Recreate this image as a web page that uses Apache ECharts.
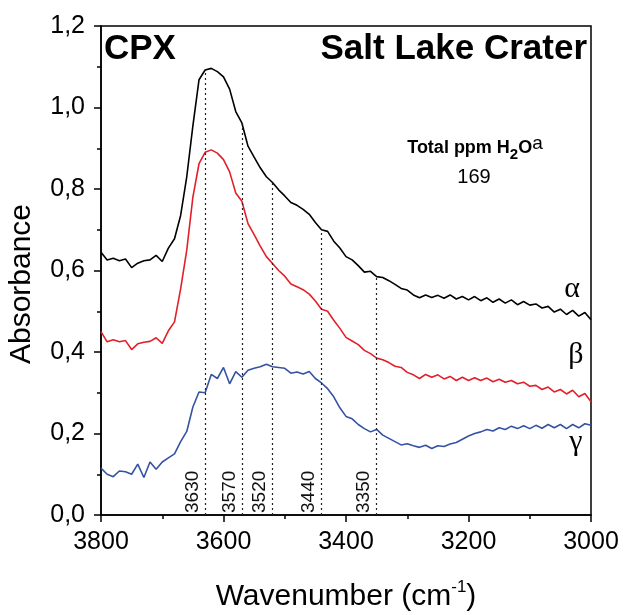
<!DOCTYPE html>
<html>
<head>
<meta charset="utf-8">
<script src="https://cdn.jsdelivr.net/npm/echarts@6/dist/echarts.min.js"></script>
<style>
  html, body { margin: 0; padding: 0; background: #fff; }
  #chart { width: 624px; height: 615px; }
</style>
</head>
<body>
<div id="chart"></div>
<script>
// FTIR spectra of CPX, Salt Lake Crater, three polarisation directions
const wavenumbers = [
  3800, 3790, 3780, 3770, 3760, 3750, 3740, 3730, 3720, 3710,
  3700, 3690, 3680, 3670, 3660, 3650, 3640, 3630, 3620, 3610,
  3600, 3590, 3580, 3570, 3560, 3550, 3540, 3530, 3520, 3510,
  3500, 3490, 3480, 3470, 3460, 3450, 3440, 3430, 3420, 3410,
  3400, 3390, 3380, 3370, 3360, 3350, 3340, 3330, 3320, 3310,
  3300, 3290, 3280, 3270, 3260, 3250, 3240, 3230, 3220, 3210,
  3200, 3190, 3180, 3170, 3160, 3150, 3140, 3130, 3120, 3110,
  3100, 3090, 3080, 3070, 3060, 3050, 3040, 3030, 3020, 3010,
  3000
];

const absAlpha = [
  0.645, 0.626, 0.630, 0.624, 0.628, 0.607, 0.618, 0.624, 0.626, 0.637,
  0.622, 0.655, 0.678, 0.735, 0.830, 0.955, 1.068, 1.092, 1.096, 1.088,
  1.075, 1.045, 0.990, 0.962, 0.905, 0.878, 0.852, 0.830, 0.816, 0.798,
  0.783, 0.767, 0.760, 0.750, 0.738, 0.718, 0.700, 0.696, 0.672, 0.655,
  0.634, 0.626, 0.612, 0.596, 0.598, 0.585, 0.583, 0.575, 0.566, 0.556,
  0.552, 0.540, 0.533, 0.540, 0.534, 0.539, 0.532, 0.540, 0.530, 0.536,
  0.528, 0.536, 0.526, 0.533, 0.522, 0.530, 0.520, 0.528, 0.516, 0.524,
  0.515, 0.518, 0.508, 0.512, 0.498, 0.505, 0.492, 0.502, 0.488, 0.497,
  0.479
];

const absBeta = [
  0.450, 0.425, 0.430, 0.425, 0.428, 0.406, 0.420, 0.424, 0.426, 0.435,
  0.421, 0.452, 0.474, 0.555, 0.650, 0.780, 0.862, 0.890, 0.896, 0.888,
  0.872, 0.842, 0.790, 0.770, 0.715, 0.688, 0.660, 0.634, 0.617, 0.600,
  0.586, 0.567, 0.560, 0.553, 0.542, 0.525, 0.505, 0.500, 0.478, 0.458,
  0.436, 0.427, 0.418, 0.404, 0.396, 0.385, 0.381, 0.374, 0.365, 0.362,
  0.350, 0.344, 0.335, 0.345, 0.338, 0.344, 0.334, 0.340, 0.330, 0.338,
  0.330, 0.337, 0.330, 0.336, 0.327, 0.333, 0.326, 0.330, 0.322, 0.326,
  0.316, 0.318, 0.308, 0.314, 0.302, 0.308, 0.297, 0.306, 0.290, 0.298,
  0.278
];

const absGamma = [
  0.115, 0.100, 0.094, 0.108, 0.106, 0.100, 0.125, 0.092, 0.130, 0.112,
  0.130, 0.140, 0.150, 0.180, 0.205, 0.265, 0.302, 0.300, 0.345, 0.335,
  0.362, 0.322, 0.352, 0.338, 0.355, 0.360, 0.364, 0.370, 0.364, 0.362,
  0.360, 0.348, 0.351, 0.346, 0.352, 0.335, 0.324, 0.310, 0.290, 0.263,
  0.242, 0.236, 0.222, 0.212, 0.204, 0.210, 0.196, 0.188, 0.180, 0.172,
  0.175, 0.170, 0.166, 0.171, 0.163, 0.170, 0.168, 0.174, 0.178, 0.186,
  0.194, 0.200, 0.204, 0.210, 0.206, 0.214, 0.210, 0.218, 0.212, 0.219,
  0.212, 0.220, 0.213, 0.222, 0.214, 0.222, 0.212, 0.222, 0.214, 0.224,
  0.220
];

// OH band positions marked under the alpha spectrum
const bandPositions = [3630, 3570, 3520, 3440, 3350];

const seriesNames = ['\u03b1', '\u03b2', '\u03b3'];
const seriesColors = ['#000000', '#e3202a', '#3553a4'];

const SANS = 'Arial, "Liberation Sans", Helvetica, sans-serif';
const SERIF = '"Times New Roman", "Liberation Serif", serif';

function pairs(values) {
  return wavenumbers.map((w, i) => [w, values[i]]);
}

const bandLines = bandPositions.map(b => {
  const top = absAlpha[wavenumbers.indexOf(b)];
  return [
    { coord: [b, 0], name: String(b) },
    { coord: [b, top] }
  ];
});

const chart = echarts.init(document.getElementById('chart'), null, { renderer: 'canvas' });

chart.setOption({
  animation: false,
  backgroundColor: '#ffffff',
  grid: {
    left: 101, right: 33, top: 26, bottom: 100,
    show: true, borderColor: '#000', borderWidth: 1.5,
    backgroundColor: 'transparent'
  },
  xAxis: {
    type: 'value',
    min: 3000, max: 3800, interval: 200,
    inverse: true,
    axisLine: { lineStyle: { color: '#000', width: 1.5 } },
    axisTick: { length: 7, lineStyle: { color: '#000', width: 1.5 } },
    minorTick: { show: true, splitNumber: 2, length: 4, lineStyle: { color: '#000', width: 1.5 } },
    splitLine: { show: false },
    axisLabel: {
      color: '#000', fontSize: 25, fontFamily: SANS, margin: 15,
      formatter: v => String(v)
    }
  },
  yAxis: {
    type: 'value',
    min: 0, max: 1.2, interval: 0.2,
    axisLine: { show: true, lineStyle: { color: '#000', width: 1.5 } },
    axisTick: { show: true, length: 7, lineStyle: { color: '#000', width: 1.5 } },
    minorTick: { show: true, splitNumber: 2, length: 4, lineStyle: { color: '#000', width: 1.5 } },
    splitLine: { show: false },
    axisLabel: {
      color: '#000', fontSize: 25, fontFamily: SANS, margin: 16,
      formatter: v => v.toFixed(1).replace('.', ',')
    }
  },
  series: [
    {
      name: seriesNames[0], type: 'line', data: pairs(absAlpha),
      showSymbol: false, smooth: false,
      lineStyle: { color: seriesColors[0], width: 1.6 },
      z: 3,
      markLine: {
        silent: true,
        symbol: ['none', 'none'],
        lineStyle: { color: '#222', width: 1.2, type: [2, 3] },
        label: {
          show: true, position: 'insideStartTop', formatter: '{b}',
          color: '#111', fontSize: 19, fontFamily: SANS, distance: [2, 3]
        },
        data: bandLines
      }
    },
    {
      name: seriesNames[1], type: 'line', data: pairs(absBeta),
      showSymbol: false, lineStyle: { color: seriesColors[1], width: 1.6 }, z: 3
    },
    {
      name: seriesNames[2], type: 'line', data: pairs(absGamma),
      showSymbol: false, lineStyle: { color: seriesColors[2], width: 1.6 }, z: 3
    }
  ],
  graphic: [
    {
      type: 'text', x: 104, y: 49,
      style: { text: 'CPX', fill: '#000', font: 'bold 35px ' + SANS, textAlign: 'left', textVerticalAlign: 'middle' }
    },
    {
      type: 'text', x: 587, y: 49,
      style: { text: 'Salt Lake Crater', fill: '#000', font: 'bold 35px ' + SANS, textAlign: 'right', textVerticalAlign: 'middle' }
    },
    {
      type: 'text', x: 475, y: 148,
      style: {
        text: '{b|Total ppm H}{sub|2}{b|O}{sup|a}',
        textAlign: 'center', textVerticalAlign: 'middle',
        rich: {
          b: { fontSize: 18, fontWeight: 'bold', fontFamily: SANS, fill: '#000', lineHeight: 28 },
          sub: { fontSize: 15, fontWeight: 'bold', fontFamily: SANS, fill: '#000', lineHeight: 16, verticalAlign: 'bottom' },
          sup: { fontSize: 19, fontFamily: SANS, fill: '#000', lineHeight: 16, verticalAlign: 'top' }
        }
      }
    },
    {
      type: 'text', x: 474, y: 177,
      style: { text: '169', fill: '#000', font: '20px ' + SANS, textAlign: 'center', textVerticalAlign: 'middle' }
    },
    {
      type: 'text', x: 572, y: 289,
      style: { text: seriesNames[0], fill: '#000', font: '30px ' + SERIF, textAlign: 'center', textVerticalAlign: 'middle' }
    },
    {
      type: 'text', x: 576, y: 355,
      style: { text: seriesNames[1], fill: '#000', font: '30px ' + SERIF, textAlign: 'center', textVerticalAlign: 'middle' }
    },
    {
      type: 'text', x: 576, y: 442,
      style: { text: seriesNames[2], fill: '#000', font: '30px ' + SERIF, textAlign: 'center', textVerticalAlign: 'middle' }
    },
    {
      type: 'text', x: 22, y: 284, rotation: Math.PI / 2,
      style: { text: 'Absorbance', fill: '#000', font: '30px ' + SANS, textAlign: 'center', textVerticalAlign: 'middle' }
    },
    {
      type: 'text', x: 346, y: 597,
      style: {
        text: '{a|Wavenumber (cm}{s|-1}{a|)}',
        textAlign: 'center', textVerticalAlign: 'middle',
        rich: {
          a: { fontSize: 30, fontFamily: SANS, fill: '#000', lineHeight: 36 },
          s: { fontSize: 17, fontFamily: SANS, fill: '#000', lineHeight: 20, verticalAlign: 'top' }
        }
      }
    }
  ]
});
</script>
</body>
</html>
